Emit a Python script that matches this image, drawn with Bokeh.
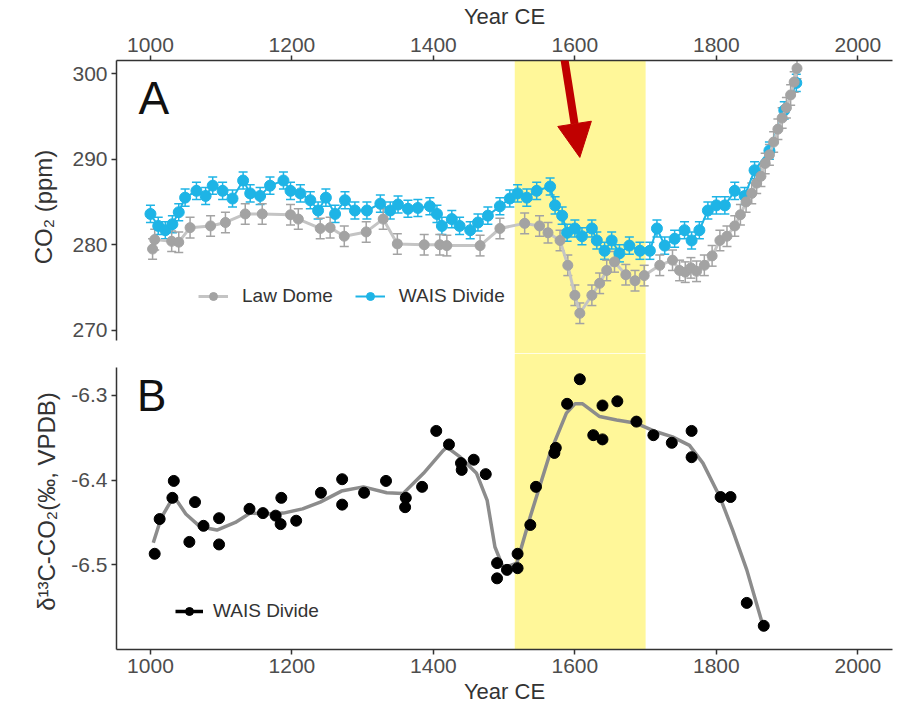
from bokeh.plotting import figure
from bokeh.layouts import column
from bokeh.models import (Range1d, FixedTicker, BoxAnnotation, Whisker, TeeHead,
                          ColumnDataSource, Legend, LegendItem, Label, Arrow, NormalHead,
                          PrintfTickFormatter)
from bokeh.embed import file_html
from bokeh.resources import INLINE

FONT = "Liberation Sans"

# ---------------- data ----------------
X_TICKS = [1000, 1200, 1400, 1600, 1800, 2000]
CO2_TICKS = [270, 280, 290, 300]
D13_TICKS = [-6.5, -6.4, -6.3]
BAND_START = 1515
BAND_END = 1700

LAW_YEAR = [1003, 1006, 1030, 1040, 1056, 1085, 1106, 1134, 1158, 1198, 1209, 1240, 1254,
            1274, 1305, 1329, 1349, 1387, 1409, 1419, 1466, 1494, 1529, 1550, 1562, 1579,
            1590, 1600, 1607, 1624, 1635, 1645, 1656, 1672, 1685, 1698, 1720, 1738, 1748,
            1756, 1764, 1772, 1783, 1794, 1805, 1815, 1826, 1834, 1842, 1850, 1857, 1863,
            1869, 1875, 1881, 1887, 1893, 1899, 1905, 1910, 1914]
LAW_CO2 = [279.5, 280.6, 280.4, 280.3, 282.0, 282.2, 282.6, 283.6, 283.6, 283.5, 283.0,
           281.9, 282.0, 281.0, 281.5, 283.0, 280.1, 280.0, 280.0, 279.9, 279.9, 281.9,
           282.5, 282.2, 281.4, 280.5, 277.6, 274.1, 272.0, 274.1, 275.5, 277.0, 278.0,
           276.5, 275.8, 276.4, 277.6, 278.2, 277.0, 276.8, 277.3, 276.9, 277.6, 278.7,
           280.5, 281.0, 282.2, 283.5, 285.0, 286.0, 287.2, 288.0, 289.5, 290.5, 292.0,
           293.5, 294.8, 296.0, 297.5, 299.0, 300.6]
LAW_ERR = 1.2

WAIS_YEAR = [1000, 1011, 1021, 1031, 1040, 1049, 1065, 1078, 1088, 1102, 1116, 1131, 1141,
             1155, 1169, 1188, 1198, 1212, 1226, 1237, 1248, 1261, 1275, 1289, 1306, 1325,
             1339, 1350, 1364, 1378, 1395, 1405, 1412, 1426, 1437, 1452, 1463, 1477, 1494,
             1508, 1519, 1532, 1546, 1565, 1572, 1582, 1589, 1600, 1610, 1624, 1631, 1642,
             1652, 1663, 1677, 1692, 1706, 1716, 1727, 1741, 1755, 1765, 1776, 1788, 1800,
             1812, 1826, 1840, 1854, 1875, 1896, 1913]
WAIS_CO2 = [283.6, 282.2, 281.7, 282.4, 283.8, 285.5, 286.3, 285.7, 286.9, 286.3, 285.4,
            287.5, 286.0, 285.7, 286.9, 287.5, 286.3, 286.0, 285.2, 284.0, 285.5, 283.6,
            285.2, 284.0, 284.0, 284.8, 284.0, 284.7, 284.2, 284.3, 284.5, 283.6, 282.2,
            283.0, 282.2, 281.7, 282.6, 283.4, 284.5, 285.4, 286.0, 285.5, 286.3, 286.8,
            284.6, 283.4, 281.4, 281.9, 281.0, 281.9, 280.5, 279.3, 280.5, 279.0, 279.9,
            279.3, 279.3, 281.9, 279.9, 280.7, 281.7, 280.5, 281.7, 284.0, 284.6, 284.6,
            286.3, 285.7, 288.7, 291.0, 295.7, 298.9]
WAIS_ERR = 1.0

D13_YEAR = [1006, 1013, 1031, 1033, 1055, 1063, 1075, 1097, 1097, 1140, 1159, 1177, 1184,
            1185, 1206, 1241, 1271, 1271, 1302, 1333, 1360, 1361, 1384, 1404, 1422, 1439,
            1440, 1457, 1474, 1490, 1490, 1504, 1519, 1519, 1537, 1545, 1571, 1573, 1589,
            1607, 1626, 1639, 1639, 1660, 1687, 1711, 1737, 1765, 1765, 1806, 1820, 1843,
            1867]
D13_VAL = [-6.487, -6.446, -6.421, -6.401, -6.473, -6.426, -6.454, -6.445, -6.476, -6.434,
           -6.439, -6.442, -6.452, -6.421, -6.448, -6.415, -6.399, -6.429, -6.415, -6.401,
           -6.432, -6.421, -6.408, -6.342, -6.358, -6.380, -6.388, -6.376, -6.393, -6.498,
           -6.516, -6.506, -6.487, -6.504, -6.453, -6.408, -6.368, -6.362, -6.310, -6.281,
           -6.347, -6.352, -6.312, -6.307, -6.331, -6.347, -6.356, -6.342, -6.373, -6.420,
           -6.420, -6.545, -6.572]

SMOOTH_YEAR = [1004, 1015, 1033, 1050, 1070, 1094, 1120, 1141, 1165, 1188, 1215, 1240,
               1270, 1301, 1334, 1357, 1386, 1414, 1419, 1438, 1461, 1476, 1487, 1499,
               1518, 1537, 1565, 1588, 1600, 1611, 1635, 1659, 1687, 1715, 1738, 1762,
               1781, 1805, 1823, 1843, 1868]
SMOOTH_VAL = [-6.474, -6.445, -6.419, -6.440, -6.455, -6.459, -6.450, -6.439, -6.440,
              -6.439, -6.434, -6.426, -6.413, -6.408, -6.415, -6.416, -6.392, -6.365,
              -6.361, -6.373, -6.392, -6.424, -6.479, -6.504, -6.498, -6.443, -6.368,
              -6.321, -6.310, -6.310, -6.325, -6.329, -6.333, -6.343, -6.349, -6.359,
              -6.380, -6.420, -6.459, -6.506, -6.578]

# ---------------- styles ----------------
LAW_PT = "#A3A3A3"
LAW_LINE = "#C4C4C4"
WAIS_C = "#1EB4E6"
BAND_C = "#FFF799"
AX_C = "#333333"
TICK_LBL_C = "#4D4D4D"


def style(p):
    p.grid.visible = False
    p.outline_line_color = None
    p.background_fill_color = "white"
    p.border_fill_color = "white"
    for ax in p.axis:
        ax.axis_line_color = AX_C
        ax.axis_line_width = 1.5
        ax.major_tick_line_color = AX_C
        ax.major_tick_line_width = 1.5
        ax.major_tick_out = 5
        ax.major_tick_in = 0
        ax.minor_tick_line_color = None
        ax.major_label_text_font = FONT
        ax.major_label_text_font_size = "21px"
        ax.major_label_text_color = TICK_LBL_C
        ax.major_label_standoff = 4
        ax.axis_label_text_font = FONT
        ax.axis_label_text_font_size = "22px"
        ax.axis_label_text_font_style = "normal"
        ax.axis_label_text_color = AX_C


x_range = Range1d(952, 2049)

# ---------------- panel A ----------------
pa = figure(width=900, height=353, x_range=x_range, y_range=Range1d(267.3, 301.52),
            x_axis_location="above", output_backend="svg", toolbar_location=None,
            title=None, min_border_left=116, min_border_right=8, min_border_top=60,
            min_border_bottom=0)
style(pa)
pa.xaxis.ticker = FixedTicker(ticks=X_TICKS)
pa.yaxis.ticker = FixedTicker(ticks=CO2_TICKS)
pa.xaxis.axis_label = "Year CE"
pa.xaxis.axis_label_standoff = 6
pa.yaxis.axis_label = "CO₂ (ppm)"
pa.yaxis.axis_label_text_font_size = "24px"
pa.yaxis.axis_label_standoff = 12
pa.yaxis.bounds = (268.8, 301.52)

pa.add_layout(BoxAnnotation(left=BAND_START, right=BAND_END, fill_color=BAND_C,
                            fill_alpha=1, line_color=None, level="underlay"))

wais_src = ColumnDataSource(dict(x=WAIS_YEAR, y=WAIS_CO2,
                                 hi=[v + WAIS_ERR for v in WAIS_CO2],
                                 lo=[v - WAIS_ERR for v in WAIS_CO2]))
law_src = ColumnDataSource(dict(x=LAW_YEAR, y=LAW_CO2,
                                hi=[v + LAW_ERR for v in LAW_CO2],
                                lo=[v - LAW_ERR for v in LAW_CO2]))

pa.add_layout(Whisker(source=wais_src, base="x", upper="hi", lower="lo",
                      line_color=WAIS_C, line_width=1.5, level="underlay",
                      upper_head=TeeHead(size=9, line_color=WAIS_C, line_width=1.5),
                      lower_head=TeeHead(size=9, line_color=WAIS_C, line_width=1.5)))
wais_line = pa.line("x", "y", source=wais_src, line_color=WAIS_C, line_width=2)
wais_pts = pa.scatter("x", "y", source=wais_src, size=11, fill_color=WAIS_C,
                      line_color=WAIS_C)

pa.add_layout(Whisker(source=law_src, base="x", upper="hi", lower="lo",
                      line_color=LAW_PT, line_width=1.5, level="underlay",
                      upper_head=TeeHead(size=9, line_color=LAW_PT, line_width=1.5),
                      lower_head=TeeHead(size=9, line_color=LAW_PT, line_width=1.5)))
law_line = pa.line("x", "y", source=law_src, line_color=LAW_LINE, line_width=3)
law_pts = pa.scatter("x", "y", source=law_src, size=10, fill_color=LAW_PT,
                     line_color=LAW_PT)

leg_a = Legend(items=[LegendItem(label="Law Dome", renderers=[law_line, law_pts]),
                      LegendItem(label="WAIS Divide", renderers=[wais_line, wais_pts])],
               orientation="horizontal", location=(82, 46), border_line_color=None,
               background_fill_alpha=0, label_text_font=FONT,
               label_text_font_size="19px", label_text_color=AX_C,
               glyph_width=30, glyph_height=20, spacing=22, padding=0, margin=0,
               label_standoff=14)
pa.add_layout(leg_a)

pa.add_layout(Label(x=983, y=297.1, text="A", text_font=FONT, text_font_size="46px",
                    text_color="#111111", text_baseline="alphabetic"))

pa.add_layout(Arrow(end=NormalHead(size=34, fill_color="#C00000", line_color="#C00000"),
                    x_start=1574, y_start=307.6, x_end=1607, y_end=290.2,
                    line_color="#C00000", line_width=8, level="overlay"))

# ---------------- panel B ----------------
pb = figure(width=900, height=353, x_range=x_range, y_range=Range1d(-6.6, -6.2506),
            output_backend="svg", toolbar_location=None, title=None,
            min_border_left=116, min_border_right=8, min_border_top=0,
            min_border_bottom=56)
style(pb)
pb.xaxis.ticker = FixedTicker(ticks=X_TICKS)
pb.yaxis.ticker = FixedTicker(ticks=D13_TICKS)
pb.yaxis.formatter = PrintfTickFormatter(format="%.1f")
pb.xaxis.axis_label = "Year CE"
pb.xaxis.axis_label_standoff = 3
pb.yaxis.axis_label = "δ¹³C-CO₂(‰, VPDB)"
pb.yaxis.axis_label_text_font_size = "24px"
pb.yaxis.axis_label_standoff = 8
pb.yaxis.bounds = (-6.6, -6.267)

pb.add_layout(BoxAnnotation(left=BAND_START, right=BAND_END, fill_color=BAND_C,
                            fill_alpha=1, line_color=None, level="underlay"))

pb.line(SMOOTH_YEAR, SMOOTH_VAL, line_color="#8C8C8C", line_width=3.5)
d13_pts = pb.scatter(D13_YEAR, D13_VAL, size=11, fill_color="black", line_color="black")
leg_line = pb.line(D13_YEAR, D13_VAL, line_color="black", line_width=3.5, visible=False)

leg_b = Legend(items=[LegendItem(label="WAIS Divide", renderers=[leg_line, d13_pts])],
               location=(59, 27), border_line_color=None, background_fill_alpha=0,
               label_text_font=FONT, label_text_font_size="19px", label_text_color=AX_C,
               glyph_width=28, glyph_height=20, padding=0, margin=0, label_standoff=10)
pb.add_layout(leg_b)

pb.add_layout(Label(x=981, y=-6.30, text="B", text_font=FONT, text_font_size="44px",
                    text_color="#111111", text_baseline="alphabetic"))

layout = column(pa, pb)
open("out.html", "w").write(file_html(layout, INLINE))
